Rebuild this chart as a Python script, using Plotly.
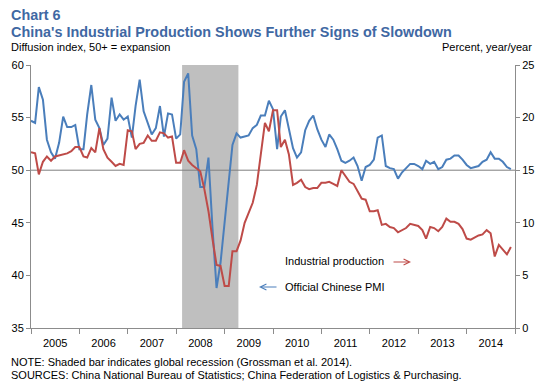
import pandas as pd
import plotly.graph_objects as go

# ---- data -------------------------------------------------------------
months = pd.date_range("2005-01-01", periods=120, freq="MS")

# Official Chinese PMI (diffusion index, left axis)
pmi_2005 = [54.7, 54.5, 57.9, 56.7, 52.9, 51.7, 51.1, 52.6, 55.1, 54.1, 54.1, 54.3]
pmi_2006 = [52.0, 52.0, 55.3, 58.1, 54.8, 54.0, 52.4, 53.0, 56.9, 54.7, 55.3, 54.8]
pmi_2007 = [55.1, 53.1, 56.1, 58.6, 55.6, 54.5, 53.4, 54.0, 56.1, 53.2, 55.4, 55.3]
pmi_2008 = [53.0, 53.4, 58.4, 59.2, 53.3, 52.0, 48.4, 48.4, 51.2, 44.6, 38.8, 41.2]
pmi_2009 = [45.3, 49.0, 52.4, 53.5, 53.1, 53.2, 53.3, 54.0, 54.3, 55.2, 55.2, 56.6]
pmi_2010 = [55.8, 52.0, 55.1, 55.7, 53.9, 52.1, 51.2, 51.7, 53.8, 54.7, 55.2, 53.9]
pmi_2011 = [52.9, 52.2, 53.4, 52.9, 52.0, 50.9, 50.7, 50.9, 51.2, 50.4, 49.0, 50.3]
pmi_2012 = [50.5, 51.0, 53.1, 53.3, 50.4, 50.2, 50.1, 49.2, 49.8, 50.2, 50.6, 50.6]
pmi_2013 = [50.4, 50.1, 50.9, 50.6, 50.8, 50.1, 50.3, 51.0, 51.1, 51.4, 51.4, 51.0]
pmi_2014 = [50.5, 50.2, 50.3, 50.4, 50.8, 51.0, 51.7, 51.1, 51.1, 50.8, 50.3, 50.1]
pmi = (pmi_2005 + pmi_2006 + pmi_2007 + pmi_2008 + pmi_2009 +
       pmi_2010 + pmi_2011 + pmi_2012 + pmi_2013 + pmi_2014)

# Industrial production (percent, year/year, right axis)
ip_2005 = [16.7, 16.6, 14.6, 15.8, 16.3, 15.9, 16.3, 16.4, 16.5, 16.6, 16.8, 17.2]
ip_2006 = [17.2, 16.3, 16.2, 17.1, 16.7, 19.0, 17.0, 16.2, 15.8, 15.4, 15.6, 15.5]
ip_2007 = [18.8, 18.7, 17.0, 17.5, 17.6, 18.3, 17.8, 17.8, 18.6, 18.5, 18.1, 18.2]
ip_2008 = [15.7, 15.7, 16.9, 15.9, 15.5, 15.2, 14.9, 13.2, 11.1, 8.5, 6.0, 5.9]
ip_2009 = [4.0, 4.0, 7.3, 7.3, 8.3, 10.0, 10.9, 11.9, 13.6, 16.3, 19.5, 18.7]
ip_2010 = [20.7, 20.7, 17.2, 17.9, 16.5, 13.6, 13.8, 14.1, 13.4, 13.2, 13.3, 13.3]
ip_2011 = [13.8, 13.8, 13.9, 13.7, 13.5, 15.0, 14.5, 13.9, 13.7, 13.0, 12.3, 12.2]
ip_2012 = [11.1, 11.1, 11.2, 9.8, 9.9, 9.6, 9.5, 9.1, 9.3, 9.5, 9.9, 9.8]
ip_2013 = [9.7, 9.3, 8.5, 9.6, 9.5, 9.2, 9.6, 10.4, 10.1, 10.1, 9.9, 9.4]
ip_2014 = [8.5, 8.4, 8.6, 8.8, 8.9, 9.3, 9.0, 6.8, 7.9, 7.5, 7.0, 7.7]
ip = (ip_2005 + ip_2006 + ip_2007 + ip_2008 + ip_2009 +
      ip_2010 + ip_2011 + ip_2012 + ip_2013 + ip_2014)

recession_start = "2008-02-15"
recession_end = "2009-04-15"

# ---- styling ----------------------------------------------------------
FONT = "Liberation Sans, Arial, sans-serif"
BLUE = "#4A7EBB"
RED = "#BE4B48"
TITLE = "#3F68A3"
AXIS = "#8C8C8C"

fig = go.Figure()
fig.add_trace(go.Scatter(x=months, y=pmi, mode="lines", name="Official Chinese PMI",
                         line=dict(color=BLUE, width=2), yaxis="y"))
fig.add_trace(go.Scatter(x=months, y=ip, mode="lines", name="Industrial production",
                         line=dict(color=RED, width=2), yaxis="y2"))

fig.add_shape(type="rect", xref="x", yref="paper", x0=recession_start, x1=recession_end,
              y0=0, y1=1, fillcolor="#BFBFBF", line=dict(width=0), layer="below")
fig.add_shape(type="line", xref="paper", yref="y", x0=0, x1=1, y0=50, y1=50,
              line=dict(color="#7F7F7F", width=1), layer="below")

# plot area in pixels: x 31..515, y 65..328
def px(xp):
    return (xp - 31) / 484.0

def py(yp):
    return (328 - yp) / 263.0

ann = []
ann.append(dict(text="<b>Chart 6</b>", x=px(9), y=py(15), xanchor="left", yanchor="middle",
                font=dict(size=14.4, color=TITLE)))
ann.append(dict(text="<b>China's Industrial Production Shows Further Signs of Slowdown</b>",
                x=px(9), y=py(32), xanchor="left", yanchor="middle",
                font=dict(size=14.4, color=TITLE)))
ann.append(dict(text="Diffusion index, 50+ = expansion", x=px(9), y=py(47),
                xanchor="left", yanchor="middle", font=dict(size=11, color="#000")))
ann.append(dict(text="Percent, year/year", x=px(534), y=py(47),
                xanchor="right", yanchor="middle", font=dict(size=11, color="#000")))
ann.append(dict(text="NOTE: Shaded bar indicates global recession (Grossman et al. 2014).",
                x=px(9), y=py(362), xanchor="left", yanchor="middle",
                font=dict(size=11, color="#000")))
ann.append(dict(text="SOURCES: China National Bureau of Statistics; China Federation of Logistics &amp; Purchasing.",
                x=px(9), y=py(375), xanchor="left", yanchor="middle",
                font=dict(size=11, color="#000")))
ann.append(dict(text="Industrial production", x=px(283), y=py(261), xanchor="left",
                yanchor="middle", font=dict(size=11, color="#000")))
ann.append(dict(text="Official Chinese PMI", x=px(283), y=py(287), xanchor="left",
                yanchor="middle", font=dict(size=11, color="#000")))
# arrows
ann.append(dict(text="", x=px(411), y=py(262), ax=-19, ay=0, showarrow=True,
                arrowhead=5, arrowsize=1, arrowwidth=1.2, arrowcolor=RED))
ann.append(dict(text="", x=px(259), y=py(287), ax=19, ay=0, showarrow=True,
                arrowhead=5, arrowsize=1, arrowwidth=1.2, arrowcolor=BLUE))
for a in ann:
    a.setdefault("xref", "paper")
    a.setdefault("yref", "paper")
    a.setdefault("showarrow", False)
fig.update_layout(annotations=ann)

fig.update_layout(
    width=546, height=387, autosize=False,
    margin=dict(l=31, r=31, t=65, b=59),
    paper_bgcolor="white", plot_bgcolor="white",
    showlegend=False,
    font=dict(family=FONT, size=11, color="#000"),
    xaxis=dict(type="date", range=["2005-01-01", "2015-01-01"], dtick="M12",
               tick0="2005-01-01", tickformat="%Y", ticklabelmode="period",
               ticks="outside", ticklen=5, tickcolor=AXIS, showline=True,
               linecolor=AXIS, linewidth=1, showgrid=False, zeroline=False,
               tickfont=dict(size=11, color="#000")),
    yaxis=dict(range=[35, 60], dtick=5, ticks="outside", ticklen=4, tickcolor=AXIS,
               showline=True, linecolor=AXIS, linewidth=1, showgrid=False,
               zeroline=False, tickfont=dict(size=11, color="#000")),
    yaxis2=dict(range=[0, 25], dtick=5, overlaying="y", side="right", ticks="outside",
                ticklen=4, tickcolor=AXIS, showline=True, linecolor=AXIS, linewidth=1,
                showgrid=False, zeroline=False, tickfont=dict(size=11, color="#000")),
)

fig.write_html("out.html", config={"displayModeBar": False},
               post_script="document.body.style.margin='0px';document.body.style.padding='0px';")
